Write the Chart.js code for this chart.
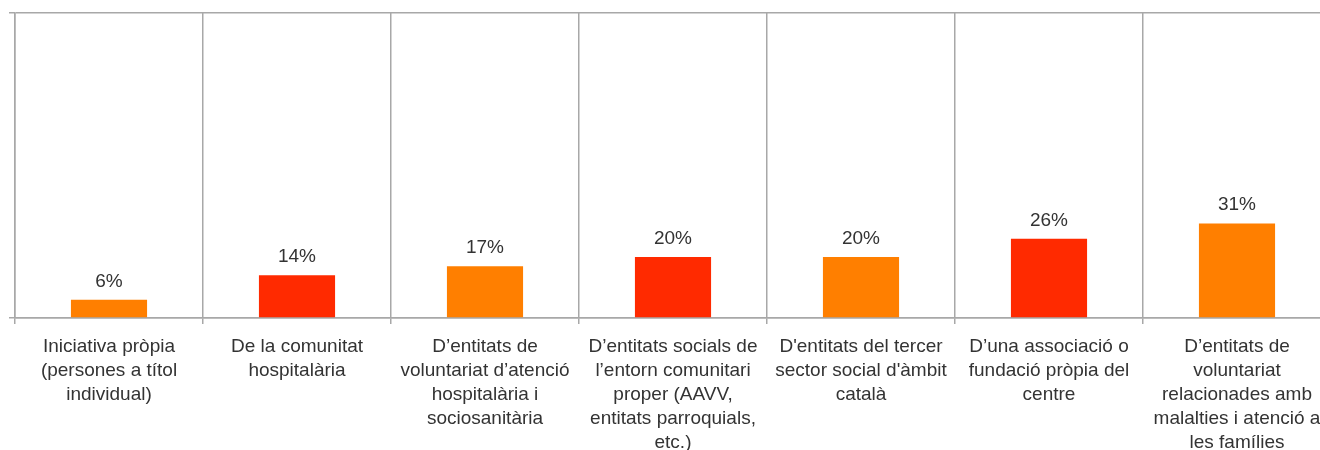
<!DOCTYPE html>
<html>
<head>
<meta charset="utf-8">
<title>Origen del voluntariat</title>
<script src="https://cdn.jsdelivr.net/npm/chart.js@4/dist/chart.umd.min.js"></script>
<style>
    html, body { margin: 0; padding: 0; background: #fff; overflow: hidden; }
    #wrap { width: 1340px; height: 450px; position: relative; }
</style>
</head>
<body>
<div id="wrap"><canvas id="chart"></canvas></div>
<script>
    // Data
    const categories = [
        ["Iniciativa pròpia", "(persones a títol", "individual)"],
        ["De la comunitat", "hospitalària"],
        ["D’entitats de", "voluntariat d’atenció", "hospitalària i", "sociosanitària"],
        ["D’entitats socials de", "l’entorn comunitari", "proper (AAVV,", "entitats parroquials,", "etc.)"],
        ["D'entitats del tercer", "sector social d'àmbit", "català"],
        ["D’una associació o", "fundació pròpia del", "centre"],
        ["D’entitats de", "voluntariat", "relacionades amb", "malalties i atenció a", "les famílies"]
    ];
    const percentages = [6, 14, 17, 20, 20, 26, 31];
    const barColors = ["#ff7f00", "#ff2a00", "#ff7f00", "#ff2a00", "#ff7f00", "#ff2a00", "#ff7f00"];

    const fontFamily = "'Liberation Sans', Arial, Helvetica, sans-serif";
    const gridColor = "#a8a8a8";

    // Value labels above the bars
    const valueLabels = {
        id: "valueLabels",
        afterDatasetsDraw: function (chart) {
            const ctx = chart.ctx;
            const meta = chart.getDatasetMeta(0);
            ctx.save();
            ctx.font = "19px " + fontFamily;
            ctx.fillStyle = "#333";
            ctx.textAlign = "center";
            ctx.textBaseline = "alphabetic";
            meta.data.forEach(function (bar, i) {
                ctx.fillText(percentages[i] + "%", bar.x, bar.y - 13);
            });
            ctx.restore();
        }
    };

    new Chart(document.getElementById("chart"), {
        type: "bar",
        data: {
            labels: categories,
            datasets: [{
                data: percentages,
                backgroundColor: barColors,
                borderWidth: 0,
                categoryPercentage: 1,
                barPercentage: 0.405
            }]
        },
        options: {
            responsive: true,
            maintainAspectRatio: false,
            animation: false,
            layout: { padding: { left: 9, right: 9, top: 13, bottom: 0 } },
            plugins: {
                legend: { display: false },
                tooltip: { enabled: false }
            },
            scales: {
                x: {
                    grid: {
                        offset: true,
                        color: gridColor,
                        lineWidth: 1.5,
                        tickLength: 6
                    },
                    border: { color: gridColor, width: 1.5 },
                    ticks: {
                        autoSkip: false,
                        maxRotation: 0,
                        minRotation: 0,
                        padding: 11,
                        color: "#333",
                        font: { family: fontFamily, size: 19, lineHeight: 1.263 }
                    },
                    afterFit: function (scale) {
                        scale.height = 132;
                    }
                },
                y: {
                    min: 0,
                    max: 100,
                    grid: {
                        color: gridColor,
                        lineWidth: 1.5,
                        tickLength: 6
                    },
                    border: { color: gridColor, width: 1.5 },
                    ticks: {
                        display: false,
                        stepSize: 100
                    }
                }
            }
        },
        plugins: [valueLabels]
    });
</script>
</body>
</html>
